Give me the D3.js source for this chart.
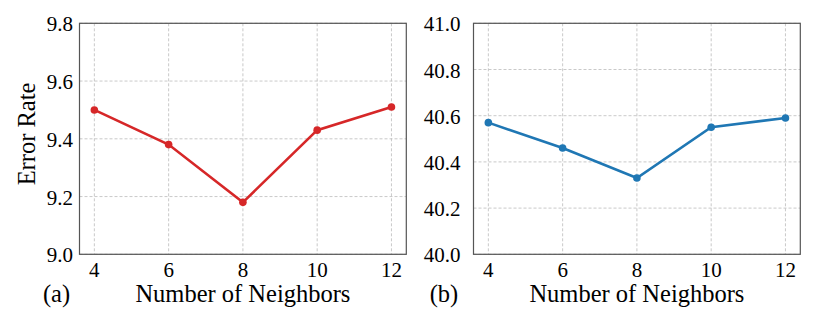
<html>
<head>
<style>
body { margin: 0; background: #fff; }
svg text { font-family: 'Liberation Serif', serif; fill: #000; }
.grid line { stroke: #bbb; stroke-width: 0.8px; stroke-dasharray: 3,2; }
.frame { fill: none; stroke: #555; stroke-width: 1.2px; }
</style>
</head>
<body>
<svg width="830" height="321"></svg>
<script src="https://d3js.org/d3.v7.min.js"></script>
<script>
const neighbors = [4, 6, 8, 10, 12]
const errorA = [9.50, 9.38, 9.18, 9.43, 9.51]
const errorB = [40.57, 40.46, 40.33, 40.55, 40.59]
const ticksA = [9.0, 9.2, 9.4, 9.6, 9.8]
const ticksB = [40.0, 40.2, 40.4, 40.6, 40.8, 41.0]

const svg = d3.select('svg')

const panels = [
    { left: 79.5, values: errorA, ticks: ticksA, domain: [9.0, 9.8], color: '#d62728', tag: '(a)', tagX: 56.5, labelGap: 6.5, ylabel: 'Error Rate' },
    { left: 473.5, values: errorB, ticks: ticksB, domain: [40.0, 41.0], color: '#1f77b4', tag: '(b)', tagX: 444, labelGap: 13, ylabel: null }
]
const plotTop = 23.3, plotBottom = 254.3, w = 326.8

function label(sel, size) {
    return sel.style('font-family', "'Liberation Serif', serif").style('font-size', size + 'px')
}

panels.forEach(function (p) {
    const x = d3.scaleLinear().domain([3.6, 12.4]).range([p.left, p.left + w])
    const y = d3.scaleLinear().domain(p.domain).range([plotBottom, plotTop])
    const g = svg.append('g')

    // grid
    const grid = g.append('g').attr('class', 'grid')
    grid.selectAll('.vx').data(neighbors).enter().append('line')
        .attr('x1', d => x(d)).attr('x2', d => x(d))
        .attr('y1', plotTop).attr('y2', plotBottom)
    grid.selectAll('.hy').data(p.ticks).enter().append('line')
        .attr('y1', d => y(d)).attr('y2', d => y(d))
        .attr('x1', p.left).attr('x2', p.left + w)

    g.append('rect').attr('class', 'frame')
        .attr('x', p.left).attr('y', plotTop).attr('width', w).attr('height', plotBottom - plotTop)

    // tick labels
    label(g.selectAll('.xt').data(neighbors).enter().append('text'), 21)
        .attr('x', d => x(d)).attr('y', 276.5)
        .attr('text-anchor', 'middle')
        .text(d => d)
    label(g.selectAll('.yt').data(p.ticks).enter().append('text'), 21)
        .attr('x', p.left - p.labelGap).attr('y', d => y(d) + 8)
        .attr('text-anchor', 'end')
        .text(d => d.toFixed(1))

    // line + markers
    const pts = neighbors.map((n, i) => [n, p.values[i]])
    g.append('path').datum(pts)
        .attr('fill', 'none').attr('stroke', p.color).attr('stroke-width', 2.6)
        .attr('d', d3.line().x(d => x(d[0])).y(d => y(d[1])))
    g.selectAll('.pt').data(pts).enter().append('circle')
        .attr('cx', d => x(d[0])).attr('cy', d => y(d[1])).attr('r', 3.8)
        .attr('fill', p.color)

    // labels
    label(g.append('text'), 24.5).attr('x', p.left + w / 2).attr('y', 301.5)
        .attr('text-anchor', 'middle')
        .text('Number of Neighbors')
    label(g.append('text'), 24.5).attr('x', p.tagX).attr('y', 301.5)
        .attr('text-anchor', 'middle')
        .text(p.tag)
    if (p.ylabel) {
        label(g.append('text'), 24.5).attr('transform', 'translate(35,134) rotate(-90)')
            .attr('text-anchor', 'middle')
            .text(p.ylabel)
    }
})
</script>
</body>
</html>
